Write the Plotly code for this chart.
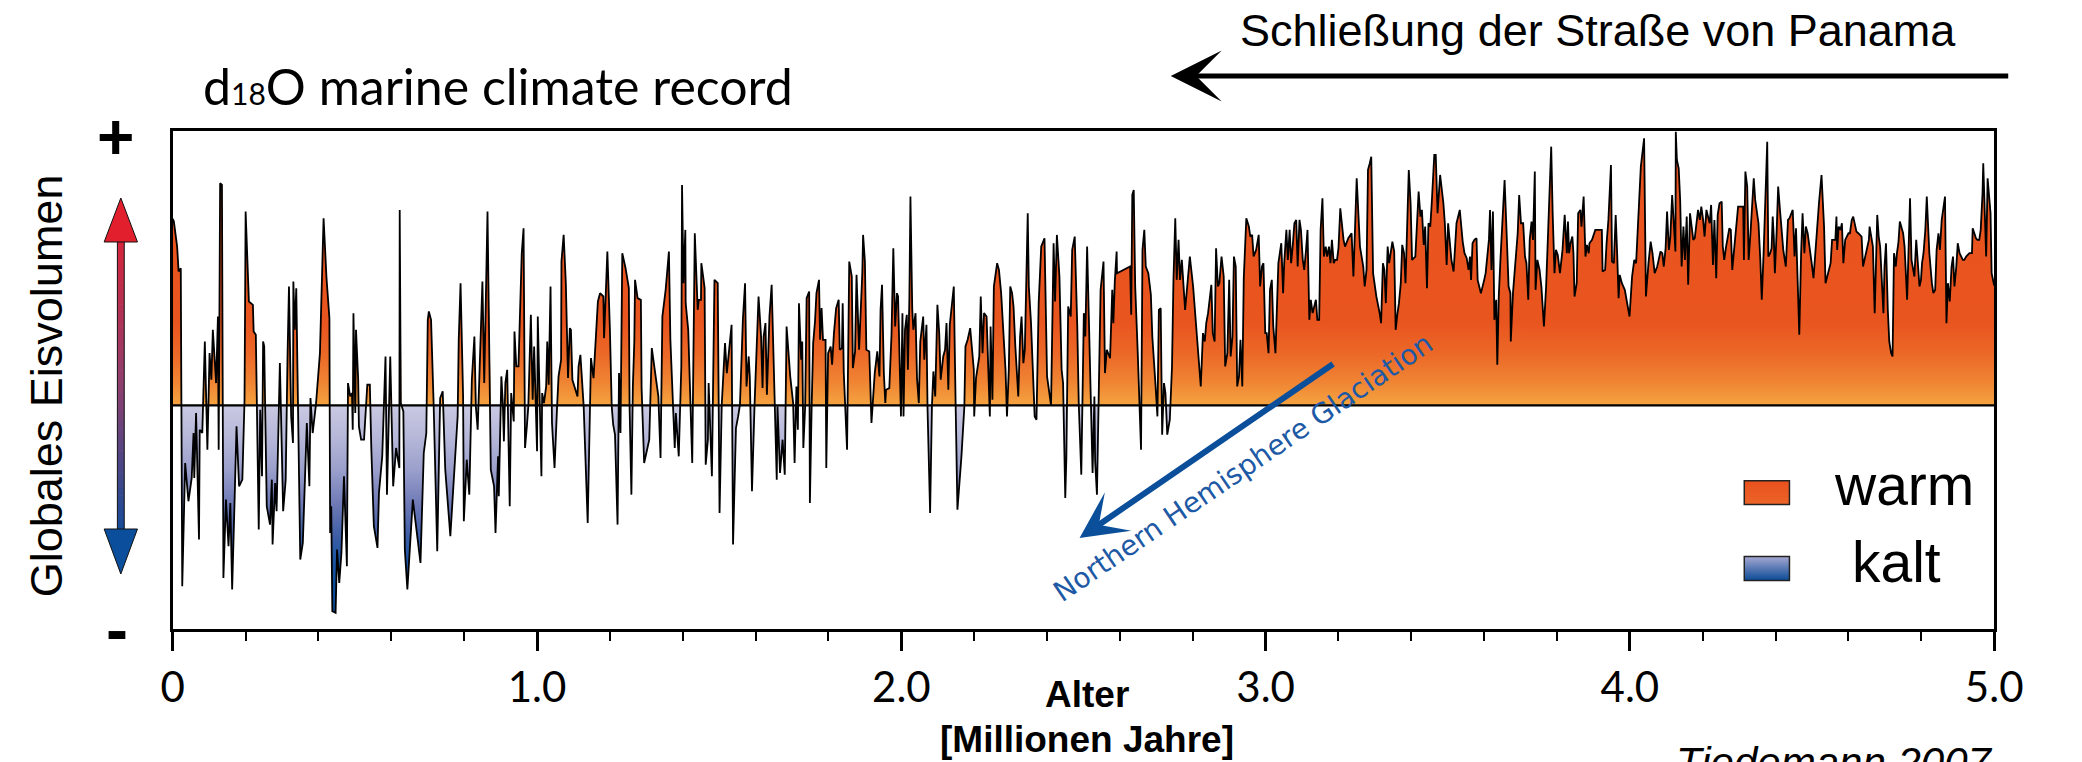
import numpy as np
import plotly.graph_objects as go

W, H = 2082, 762

# ---- data: (age in Ma, relative ice-volume / d18O anomaly, arbitrary units) ----
seg_0_1 = [(0.000,560),(0.003,552),(0.012,477),(0.016,402),(0.022,412),(0.026,-543),(0.034,-173),(0.043,-288),(0.052,-218),(0.057,-83),(0.059,-218),(0.064,-23),(0.072,-403),(0.074,-73),(0.081,-83),(0.088,192),(0.095,-133),(0.101,157),(0.106,77),(0.110,227),(0.119,67),(0.124,267),(0.126,-133),(0.130,667),(0.135,662),(0.139,-518),(0.146,-283),(0.153,-423),(0.158,-293),(0.163,-553),(0.170,-273),(0.175,-63),(0.182,-243),(0.191,-223),(0.197,17),(0.200,582),(0.209,312),(0.220,302),(0.222,222),(0.228,212),(0.236,-373),(0.240,-13),(0.245,-213),(0.248,192),(0.251,177),(0.258,-303),(0.267,-358),(0.272,-223),(0.274,-418),(0.281,-233),(0.285,-318),(0.290,-3),(0.294,127),(0.303,-318),(0.310,-223),(0.315,147),(0.319,357),(0.325,-33),(0.330,-113),(0.331,372),(0.335,227),(0.339,352),(0.348,-243),(0.350,-463),(0.357,-413),(0.363,-183),(0.368,-53),(0.375,-243),(0.378,22),(0.384,-83),(0.393,2),(0.404,157),(0.414,562),(0.422,382),(0.430,262),(0.432,-383),(0.435,-303),(0.438,-618),(0.447,-623),(0.451,-433),(0.457,-533),(0.463,-443),(0.470,-213),(0.478,-483),(0.481,67),(0.487,27),(0.492,37),(0.494,-73),(0.496,277),(0.501,-23),(0.503,227),(0.509,77),(0.511,-63),(0.517,-103),(0.525,-103),(0.534,62),(0.541,62),(0.545,-128),(0.552,-363),(0.562,-428),(0.566,-263),(0.575,-153),(0.584,147),(0.588,-268),(0.597,147),(0.605,-243),(0.613,-128),(0.622,-188),(0.623,587),(0.626,7),(0.633,-18),(0.637,-433),(0.644,-553),(0.659,-283),(0.680,-473),(0.689,-143),(0.696,-83),(0.700,257),(0.703,282),(0.709,257),(0.716,7),(0.726,-438),(0.734,22),(0.741,42),(0.748,-193),(0.762,-393),(0.782,-33),(0.785,197),(0.790,367),(0.797,27),(0.799,-348),(0.807,-163),(0.814,-268),(0.821,77),(0.828,207),(0.832,-3),(0.837,-73),(0.850,372),(0.855,67),(0.864,582),(0.870,97),(0.873,-193),(0.882,-243),(0.886,-383),(0.893,-153),(0.895,-273),(0.902,87),(0.906,7),(0.909,-108),(0.913,67),(0.918,107),(0.925,-303),(0.929,37),(0.936,-48),(0.938,222),(0.943,117),(0.949,117),(0.954,277),(0.958,457),(0.963,532),(0.967,-128),(0.972,-63),(0.976,-3),(0.983,272),(0.988,17),(0.992,177),(0.996,17)]

seg_1_2 = [(1.000,-138),(1.002,267),(1.007,57),(1.012,-213),(1.014,37),(1.019,7),(1.025,57),(1.028,192),(1.032,62),(1.034,217),(1.037,357),(1.041,-53),(1.048,-188),(1.055,-3),(1.059,87),(1.066,137),(1.067,432),(1.073,512),(1.079,367),(1.085,82),(1.090,232),(1.093,227),(1.097,77),(1.111,27),(1.114,117),(1.119,152),(1.128,-3),(1.139,-353),(1.148,142),(1.155,82),(1.167,312),(1.173,337),(1.182,327),(1.184,202),(1.193,462),(1.200,227),(1.205,-3),(1.209,-58),(1.214,-88),(1.221,-358),(1.225,97),(1.229,-83),(1.234,457),(1.243,412),(1.252,352),(1.254,-3),(1.259,-268),(1.263,57),(1.267,192),(1.269,377),(1.276,322),(1.285,317),(1.287,52),(1.294,-173),(1.308,-103),(1.315,172),(1.321,127),(1.333,27),(1.339,-158),(1.344,267),(1.353,347),(1.362,462),(1.366,197),(1.372,2),(1.378,-128),(1.381,-23),(1.389,-153),(1.396,117),(1.398,662),(1.402,367),(1.407,527),(1.408,307),(1.415,227),(1.426,-173),(1.433,517),(1.441,287),(1.444,317),(1.450,317),(1.451,427),(1.456,387),(1.460,352),(1.463,-178),(1.469,-103),(1.471,67),(1.480,-213),(1.487,377),(1.496,367),(1.498,87),(1.501,-323),(1.507,2),(1.516,187),(1.521,97),(1.528,167),(1.534,242),(1.538,-418),(1.546,-68),(1.552,-33),(1.557,2),(1.565,257),(1.571,367),(1.575,57),(1.581,147),(1.584,87),(1.590,-258),(1.597,0),(1.604,207),(1.608,327),(1.615,207),(1.619,52),(1.622,207),(1.627,247),(1.631,32),(1.638,267),(1.644,362),(1.658,-223),(1.660,-3),(1.667,-203),(1.674,-103),(1.680,-208),(1.685,237),(1.695,87),(1.703,7),(1.707,-173),(1.712,57),(1.716,-73),(1.719,307),(1.722,197),(1.725,137),(1.728,192),(1.731,-128),(1.736,-3),(1.740,322),(1.747,342),(1.749,-293),(1.754,7),(1.758,187),(1.763,252),(1.767,337),(1.774,377),(1.777,197),(1.781,292),(1.785,197),(1.792,197),(1.794,-188),(1.799,157),(1.806,177),(1.810,122),(1.815,217),(1.821,292),(1.828,317),(1.831,167),(1.837,172),(1.839,307),(1.842,97),(1.851,-133),(1.857,432),(1.864,387),(1.867,112),(1.873,162),(1.877,392),(1.884,167),(1.893,402),(1.895,512),(1.900,432),(1.904,167),(1.912,162),(1.918,-53),(1.922,7),(1.927,97),(1.934,162),(1.940,87),(1.943,287),(1.947,362),(1.952,97),(1.956,7),(1.958,47),(1.967,52),(1.973,212),(1.978,472),(1.983,237),(1.988,337),(1.991,327),(1.999,-33)]

seg_2_3 = [(2.003,277),(2.006,-33),(2.010,227),(2.015,272),(2.018,107),(2.022,317),(2.025,627),(2.030,287),(2.033,227),(2.039,277),(2.043,82),(2.048,7),(2.052,192),(2.060,267),(2.063,137),(2.069,242),(2.072,-13),(2.075,-173),(2.079,-323),(2.084,-3),(2.088,102),(2.093,27),(2.099,302),(2.104,217),(2.108,77),(2.115,147),(2.120,167),(2.124,247),(2.129,47),(2.133,242),(2.138,302),(2.144,357),(2.149,7),(2.154,-313),(2.165,-153),(2.173,-3),(2.176,177),(2.182,197),(2.189,232),(2.196,157),(2.199,107),(2.200,-33),(2.205,82),(2.214,147),(2.218,327),(2.223,157),(2.227,277),(2.234,267),(2.241,17),(2.243,-33),(2.245,237),(2.250,17),(2.254,357),(2.263,427),(2.268,407),(2.274,337),(2.286,107),(2.290,-33),(2.295,107),(2.299,357),(2.304,337),(2.308,297),(2.313,177),(2.321,27),(2.326,207),(2.330,267),(2.335,127),(2.339,167),(2.347,577),(2.350,357),(2.356,247),(2.362,97),(2.366,-33),(2.371,-43),(2.373,107),(2.377,307),(2.384,477),(2.393,502),(2.400,87),(2.411,0),(2.418,487),(2.422,312),(2.427,512),(2.434,387),(2.440,107),(2.444,67),(2.450,-278),(2.453,-158),(2.458,297),(2.465,267),(2.469,467),(2.476,507),(2.483,237),(2.487,7),(2.494,-208),(2.501,277),(2.505,207),(2.510,477),(2.514,297),(2.519,27),(2.525,-203),(2.530,27),(2.532,-168),(2.537,-268),(2.541,37),(2.547,347),(2.555,432),(2.559,97),(2.564,167),(2.568,157),(2.573,142),(2.579,347),(2.582,247),(2.586,372),(2.591,462),(2.592,397),(2.628,417),(2.631,272),(2.634,632),(2.638,647),(2.642,357),(2.649,157),(2.658,-133),(2.662,467),(2.667,527),(2.671,417),(2.678,397),(2.685,332),(2.689,207),(2.698,57),(2.703,-33),(2.707,287),(2.712,292),(2.716,-88),(2.721,67),(2.725,37),(2.730,-88),(2.737,-43),(2.743,117),(2.747,377),(2.752,562),(2.756,377),(2.761,497),(2.765,377),(2.770,437),(2.779,287),(2.786,362),(2.792,447),(2.801,357),(2.815,157),(2.822,57),(2.828,217),(2.833,192),(2.837,247),(2.842,277),(2.851,362),(2.855,217),(2.860,192),(2.864,472),(2.869,357),(2.873,367),(2.879,447),(2.885,387),(2.889,117),(2.895,157),(2.900,377),(2.904,147),(2.909,207),(2.913,447),(2.918,417),(2.922,57),(2.927,87),(2.931,197),(2.936,57),(2.940,382),(2.947,562),(2.954,537),(2.958,507),(2.963,512),(2.967,447),(2.974,467),(2.981,512),(2.985,357),(2.990,417),(2.994,427),(2.999,217)]

seg_3_4 = [(3.003,217),(3.008,157),(3.012,347),(3.017,377),(3.021,237),(3.027,157),(3.035,427),(3.039,457),(3.043,487),(3.048,337),(3.051,427),(3.057,527),(3.061,437),(3.066,527),(3.070,427),(3.075,487),(3.079,547),(3.084,557),(3.088,417),(3.093,557),(3.097,527),(3.102,437),(3.106,407),(3.111,467),(3.115,527),(3.120,257),(3.124,317),(3.129,277),(3.138,317),(3.142,257),(3.147,257),(3.151,527),(3.156,622),(3.160,447),(3.165,477),(3.169,447),(3.174,477),(3.178,427),(3.182,497),(3.187,427),(3.191,437),(3.196,437),(3.200,472),(3.205,592),(3.209,547),(3.214,497),(3.218,477),(3.227,502),(3.236,517),(3.241,387),(3.250,682),(3.254,607),(3.259,477),(3.268,417),(3.272,357),(3.277,407),(3.281,707),(3.286,727),(3.290,747),(3.295,397),(3.304,327),(3.313,277),(3.317,247),(3.322,427),(3.326,407),(3.330,307),(3.335,477),(3.339,427),(3.344,462),(3.348,492),(3.353,462),(3.357,227),(3.362,277),(3.366,307),(3.371,367),(3.375,482),(3.380,457),(3.384,367),(3.393,707),(3.398,607),(3.402,437),(3.411,447),(3.420,642),(3.425,567),(3.429,587),(3.434,482),(3.438,537),(3.443,352),(3.447,547),(3.452,537),(3.456,607),(3.463,752),(3.467,752),(3.472,577),(3.479,692),(3.488,607),(3.492,547),(3.497,422),(3.501,547),(3.506,477),(3.510,437),(3.516,402),(3.524,547),(3.533,587),(3.537,527),(3.541,492),(3.546,457),(3.552,442),(3.557,407),(3.561,447),(3.564,377),(3.568,487),(3.573,497),(3.579,502),(3.582,377),(3.591,337),(3.600,377),(3.604,397),(3.613,497),(3.616,587),(3.620,407),(3.624,582),(3.628,257),(3.633,317),(3.636,122),(3.640,327),(3.645,447),(3.651,557),(3.656,677),(3.663,477),(3.667,357),(3.672,337),(3.673,192),(3.679,337),(3.687,467),(3.692,517),(3.696,632),(3.701,547),(3.707,547),(3.712,447),(3.716,427),(3.721,317),(3.725,497),(3.730,552),(3.734,497),(3.739,702),(3.741,347),(3.746,437),(3.752,407),(3.757,357),(3.764,237),(3.770,357),(3.776,537),(3.784,777),(3.788,577),(3.793,397),(3.797,467),(3.802,452),(3.808,397),(3.815,467),(3.821,572),(3.827,457),(3.830,552),(3.833,457),(3.837,487),(3.842,507),(3.845,457),(3.848,327),(3.854,367),(3.858,577),(3.864,587),(3.867,537),(3.873,627),(3.878,447),(3.882,482),(3.887,457),(3.889,487),(3.896,497),(3.905,527),(3.914,527),(3.923,527),(3.925,402),(3.932,407),(3.936,487),(3.941,557),(3.948,722),(3.951,432),(3.956,427),(3.961,572),(3.965,457),(3.969,322),(3.972,392),(3.978,367),(3.986,347),(3.992,307),(3.999,267)]

seg_4_5 = [(4.006,387),(4.012,437),(4.017,427),(4.024,577),(4.030,717),(4.039,802),(4.044,327),(4.051,427),(4.057,492),(4.062,457),(4.068,397),(4.075,417),(4.084,462),(4.089,457),(4.093,417),(4.098,472),(4.102,582),(4.107,467),(4.111,507),(4.116,632),(4.120,567),(4.125,462),(4.126,822),(4.129,737),(4.134,712),(4.138,617),(4.142,417),(4.147,537),(4.151,437),(4.156,567),(4.160,362),(4.165,577),(4.174,497),(4.178,502),(4.187,587),(4.192,557),(4.196,597),(4.201,557),(4.205,507),(4.210,587),(4.219,547),(4.223,602),(4.228,422),(4.232,557),(4.237,382),(4.241,572),(4.246,607),(4.252,612),(4.255,477),(4.259,437),(4.264,477),(4.268,497),(4.273,532),(4.277,527),(4.281,407),(4.286,467),(4.290,517),(4.297,597),(4.304,597),(4.311,597),(4.313,437),(4.317,702),(4.322,657),(4.326,437),(4.331,517),(4.335,607),(4.340,682),(4.344,617),(4.349,567),(4.353,547),(4.358,437),(4.362,317),(4.367,457),(4.373,657),(4.377,792),(4.380,447),(4.385,457),(4.389,472),(4.392,567),(4.395,507),(4.398,397),(4.403,527),(4.407,657),(4.412,587),(4.421,467),(4.428,417),(4.434,557),(4.438,562),(4.443,577),(4.447,587),(4.452,447),(4.456,532),(4.461,357),(4.465,212),(4.470,457),(4.474,577),(4.479,457),(4.483,537),(4.488,517),(4.494,457),(4.499,427),(4.504,382),(4.510,477),(4.515,557),(4.519,607),(4.526,692),(4.533,537),(4.537,367),(4.542,387),(4.546,407),(4.551,427),(4.555,497),(4.560,497),(4.564,497),(4.567,567),(4.569,467),(4.573,537),(4.578,527),(4.582,547),(4.586,427),(4.591,497),(4.595,507),(4.600,517),(4.604,517),(4.609,557),(4.613,567),(4.618,542),(4.622,522),(4.627,517),(4.636,507),(4.640,417),(4.649,457),(4.656,497),(4.658,537),(4.663,507),(4.667,477),(4.672,277),(4.676,407),(4.679,572),(4.683,507),(4.687,477),(4.691,387),(4.696,277),(4.699,417),(4.703,487),(4.708,287),(4.712,192),(4.717,157),(4.721,147),(4.725,457),(4.730,417),(4.733,457),(4.737,487),(4.741,552),(4.745,537),(4.750,517),(4.754,477),(4.757,417),(4.761,317),(4.766,507),(4.769,622),(4.773,437),(4.777,407),(4.781,387),(4.786,497),(4.790,437),(4.795,357),(4.799,377),(4.802,427),(4.806,457),(4.811,527),(4.815,627),(4.822,457),(4.829,367),(4.833,337),(4.838,347),(4.842,467),(4.847,517),(4.851,467),(4.856,557),(4.860,587),(4.865,627),(4.869,247),(4.873,367),(4.878,312),(4.883,417),(4.887,447),(4.891,357),(4.896,417),(4.900,487),(4.905,457),(4.909,447),(4.914,437),(4.918,437),(4.923,447),(4.932,457),(4.939,457),(4.941,532),(4.945,517),(4.950,502),(4.954,497),(4.959,497),(4.963,527),(4.968,637),(4.970,727),(4.975,587),(4.978,447),(4.982,682),(4.986,627),(4.990,577),(4.993,397),(4.997,367),(5.000,360)]

tick_vals = [0, 1, 2, 3, 4, 5]
tick_text = ["0", "1.0", "2.0", "3.0", "4.0", "5.0"]
legend_labels = ["warm", "kalt"]

Y_BOT, Y_TOP = -670, 824

# ---- build series ----
pairs = seg_0_1 + seg_1_2 + seg_2_3 + seg_3_4 + seg_4_5
age = np.array([p[0] for p in pairs], dtype=float)
val = np.array([p[1] for p in pairs], dtype=float)

xs, ys = [], []
for i in range(len(age) - 1):
    xs.append(age[i]); ys.append(val[i])
    if val[i] * val[i + 1] < 0:
        t = val[i] / (val[i] - val[i + 1])
        xs.append(age[i] + t * (age[i + 1] - age[i])); ys.append(0.0)
xs.append(age[-1]); ys.append(val[-1])
xs = np.array(xs); ys = np.array(ys)
pos = np.clip(ys, 0, None)
neg = np.clip(ys, None, 0)

orange_cs = [[0, '#F5A440'], [0.08, '#F08634'], [0.18, '#EC6A28'], [0.3, '#E9551F'], [1, '#E9521E']]
blue_cs = [[0, '#084A96'], [0.2, '#0C4E9C'], [0.31, '#1C55A2'], [0.41, '#3C5DA6'],
           [0.56, '#6F7AB6'], [0.71, '#9A9FCB'], [0.86, '#B7B8D9'], [1, '#C9C9E3']]

fig = go.Figure()
fig.add_trace(go.Scatter(x=xs, y=pos, mode='lines', line=dict(width=0), fill='tozeroy',
                         fillgradient=dict(type='vertical', colorscale=orange_cs, start=0, stop=Y_TOP),
                         hoverinfo='skip', showlegend=False))
fig.add_trace(go.Scatter(x=xs, y=neg, mode='lines', line=dict(width=0), fill='tozeroy',
                         fillgradient=dict(type='vertical', colorscale=blue_cs, start=Y_BOT, stop=0),
                         hoverinfo='skip', showlegend=False))
fig.add_trace(go.Scatter(x=age, y=val, mode='lines', line=dict(color='black', width=1.8),
                         hoverinfo='skip', showlegend=False))

def fx(px):
    return px / W

def fy(py):
    return 1 - py / H

def hex2rgb(h):
    h = h.lstrip('#')
    return tuple(int(h[i:i + 2], 16) for i in (0, 2, 4))

def lerp(c1, c2, t):
    a, b = hex2rgb(c1), hex2rgb(c2)
    return 'rgb(%d,%d,%d)' % tuple(round(a[k] + (b[k] - a[k]) * t) for k in range(3))

shapes = []
shapes.append(dict(type='line', xref='x', yref='y', x0=0, x1=5, y0=0, y1=0,
                   line=dict(color='black', width=2.2), layer='above'))

def swatch(y_top, y_bot, c_top, c_bot):
    n = 12
    x0, x1 = 4.314, 4.438
    for i in range(n):
        a = y_top - (y_top - y_bot) * i / n
        b = y_top - (y_top - y_bot) * (i + 1) / n - 1
        shapes.append(dict(type='rect', xref='x', yref='y', x0=x0, x1=x1, y0=b, y1=a,
                           fillcolor=lerp(c_top, c_bot, (i + 0.5) / n), line=dict(width=0), layer='above'))
    shapes.append(dict(type='rect', xref='x', yref='y', x0=x0, x1=x1, y0=y_bot, y1=y_top,
                       fillcolor='rgba(0,0,0,0)', line=dict(color='#222', width=1.5), layer='above'))

swatch(-226, -298, '#E9511E', '#EC6428')
swatch(-454, -526, '#A6A8D2', '#0A4A96')

# left double arrow (red top -> blue bottom)
AX = 111
shaft_top, shaft_bot = 238, 532
n = 40
for i in range(n):
    t = (i + 0.5) / n
    if t < 0.5:
        col = lerp('#D8243A', '#8E3F6E', t / 0.5)
    else:
        col = lerp('#8E3F6E', '#144C98', (t - 0.5) / 0.5)
    y0 = shaft_top + (shaft_bot - shaft_top) * i / n
    y1 = shaft_top + (shaft_bot - shaft_top) * (i + 1) / n + 0.6
    shapes.append(dict(type='rect', xref='paper', yref='paper', x0=fx(AX - 3.5), x1=fx(AX + 3.5),
                       y0=fy(y1), y1=fy(y0), fillcolor=col, line=dict(width=0)))
shapes.append(dict(type='rect', xref='paper', yref='paper', x0=fx(AX - 3.5), x1=fx(AX + 3.5),
                   y0=fy(shaft_bot), y1=fy(shaft_top), fillcolor='rgba(0,0,0,0)',
                   line=dict(color='#111', width=1)))
shapes.append(dict(type='path', xref='paper', yref='paper',
                   path='M %f %f L %f %f L %f %f Z' % (fx(AX), fy(198), fx(AX - 17), fy(242), fx(AX + 17), fy(242)),
                   fillcolor='#E11F2D', line=dict(color='#111', width=1)))
shapes.append(dict(type='path', xref='paper', yref='paper',
                   path='M %f %f L %f %f L %f %f Z' % (fx(AX), fy(574), fx(AX - 17), fy(529), fx(AX + 17), fy(529)),
                   fillcolor='#0A4E9C', line=dict(color='#111', width=1)))

HUM = 'Lato, Roboto, Liberation Sans, sans-serif'
SANS = 'Liberation Sans, Arial, Helvetica, sans-serif'

ann = []
def txt(text, x, y, size, family=SANS, color='black', xanchor='center', yanchor='middle', angle=0):
    ann.append(dict(text=text, x=fx(x), y=fy(y), xref='paper', yref='paper', showarrow=False,
                    xanchor=xanchor, yanchor=yanchor, textangle=angle,
                    font=dict(family=family, size=size, color=color)))

txt('d<span style="font-size:30px">18</span>O marine climate record', 193, 86, 50, HUM, xanchor='left')
txt('Schließung der Straße von Panama', 1618, 31, 45)
txt('Globales Eisvolumen', 36, 386, 45, angle=-90)
txt('<b>+</b>', 106, 137, 64)
txt('<b>-</b>', 107, 629, 66)
txt('<b>Alter</b>', 1097, 694, 37)
txt('<b>[Millionen Jahre]</b>', 1097, 739, 37)
txt('<i>Tiedemann 2007</i>', 2022, 763, 42, xanchor='right')
txt(legend_labels[0], 1857, 485, 57, xanchor='left')
txt(legend_labels[1], 1875, 562, 57, xanchor='left')
txt('Northern Hemisphere Glaciation', 1256, 467, 28, 'DejaVu Sans', color='#1D59A4', angle=-34.3)

# arrows
ann.append(dict(text='', x=fx(1182), y=fy(76), xref='paper', yref='paper', showarrow=True,
                ax=2021 - 1182, ay=0, arrowhead=3, arrowsize=1.7, arrowwidth=5, arrowcolor='black', standoff=0))
ann.append(dict(text='', x=fx(1089), y=fy(538), xref='paper', yref='paper', showarrow=True,
                ax=1344 - 1089, ay=363 - 538, arrowhead=3, arrowsize=1.3, arrowwidth=6,
                arrowcolor='#0B4F9B', standoff=0))

fig.update_layout(
    width=W, height=H,
    margin=dict(l=0, r=0, t=0, b=0),
    paper_bgcolor='white', plot_bgcolor='white',
    showlegend=False,
    shapes=shapes, annotations=ann,
    xaxis=dict(domain=[164 / W, 2022 / W], range=[0, 5], showline=True, mirror=True,
               linecolor='black', linewidth=2.5, ticks='outside', ticklen=20, tickwidth=2.5,
               tickcolor='black', tickmode='array', tickvals=tick_vals, ticktext=tick_text,
               tickfont=dict(family=HUM, size=42, color='black'),
               showgrid=False, zeroline=False,
               minor=dict(ticks='outside', ticklen=10, tickwidth=2, tickcolor='black',
                          tickmode='linear', tick0=0, dtick=0.2, showgrid=False)),
    yaxis=dict(domain=[(H - 628.5) / H, (H - 131) / H], range=[Y_BOT, Y_TOP], showline=True,
               mirror=True, linecolor='black', linewidth=2.5, ticks='', showticklabels=False,
               showgrid=False, zeroline=False),
)

fig.write_html("out.html", config={'displayModeBar': False},
               post_script="document.body.style.margin='0px';document.body.style.overflow='hidden';")
